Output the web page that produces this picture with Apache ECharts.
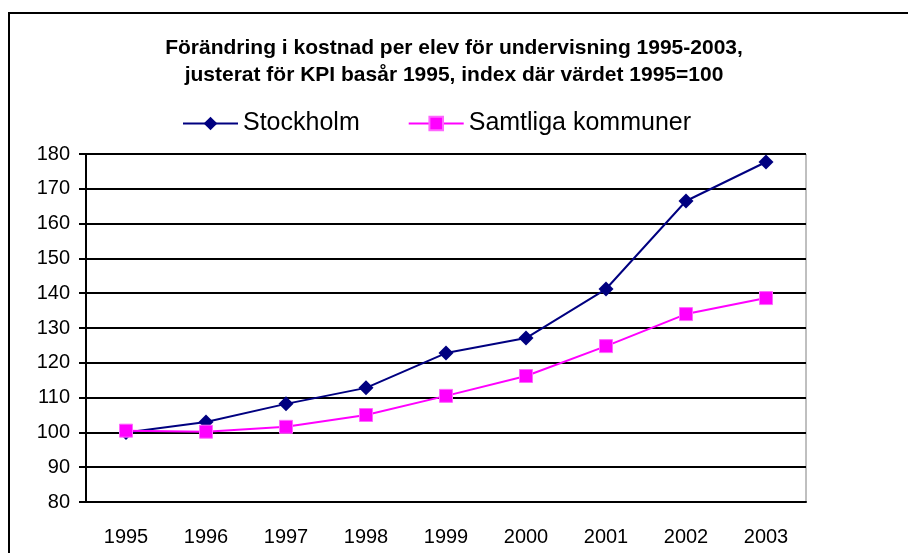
<!DOCTYPE html>
<html>
<head>
<meta charset="utf-8">
<script src="https://cdn.jsdelivr.net/npm/echarts@6/dist/echarts.min.js"></script>
<style>
  html, body { margin: 0; padding: 0; background: #fff; }
  #chart { width: 908px; height: 553px; }
</style>
</head>
<body>
<div id="chart"></div>
<script>
const years = ["1995", "1996", "1997", "1998", "1999", "2000", "2001", "2002", "2003"];
const stockholm = [100, 103, 108.2, 112.8, 122.8, 127.1, 141.2, 166.5, 177.7];
const samtliga = [100.5, 100.2, 101.6, 105, 110.5, 116.2, 124.8, 134, 138.6];

const font = "Liberation Sans, Arial, sans-serif";
const chart = echarts.init(document.getElementById("chart"));

chart.setOption({
  animation: false,
  textStyle: { fontFamily: font },
  title: {
    text: "Förändring i kostnad per elev för undervisning 1995-2003,\njusterat för KPI basår 1995, index där värdet 1995=100",
    left: "center",
    top: 30,
    textStyle: { fontSize: 21, fontWeight: "bold", color: "#000", lineHeight: 27, fontFamily: font }
  },
  legend: {
    top: 106,
    left: 177,
    itemWidth: 55,
    itemHeight: 17,
    itemGap: 48,
    textStyle: { fontSize: 25, color: "#000", fontFamily: font },
    data: ["Stockholm", "Samtliga kommuner"]
  },
  graphic: [
    {
      type: "rect",
      shape: { x: 9, y: 13, width: 905, height: 560 },
      style: { fill: null, stroke: "#000", lineWidth: 2 }
    }
  ],
  grid: {
    left: 86,
    right: 102,
    top: 154,
    bottom: 51,
    show: true,
    borderColor: "#808080",
    borderWidth: 1
  },
  xAxis: {
    type: "category",
    data: years,
    boundaryGap: true,
    axisLine: { lineStyle: { color: "#000", width: 2 } },
    axisTick: { length: 7, lineStyle: { color: "#000", width: 2 } },
    axisLabel: { fontSize: 20, color: "#000", margin: 25, fontFamily: font },
    splitLine: { show: false }
  },
  yAxis: {
    type: "value",
    min: 80,
    max: 180,
    interval: 10,
    axisLine: { show: true, lineStyle: { color: "#000", width: 2 } },
    axisTick: { show: true, length: 7, lineStyle: { color: "#000", width: 2 } },
    axisLabel: { fontSize: 20, color: "#000", margin: 16, fontFamily: font },
    splitLine: { lineStyle: { color: "#000", width: 2 } }
  },
  series: [
    {
      name: "Stockholm",
      type: "line",
      data: stockholm,
      symbol: "diamond",
      symbolSize: 15,
      color: "#000080",
      lineStyle: { color: "#000080", width: 2 },
      itemStyle: { color: "#000080" }
    },
    {
      name: "Samtliga kommuner",
      type: "line",
      data: samtliga,
      symbol: "rect",
      symbolSize: 13,
      color: "#FF00FF",
      lineStyle: { color: "#FF00FF", width: 2 },
      itemStyle: { color: "#FF00FF", borderColor: "#FF66FF", borderWidth: 1 }
    }
  ]
});
</script>
</body>
</html>
